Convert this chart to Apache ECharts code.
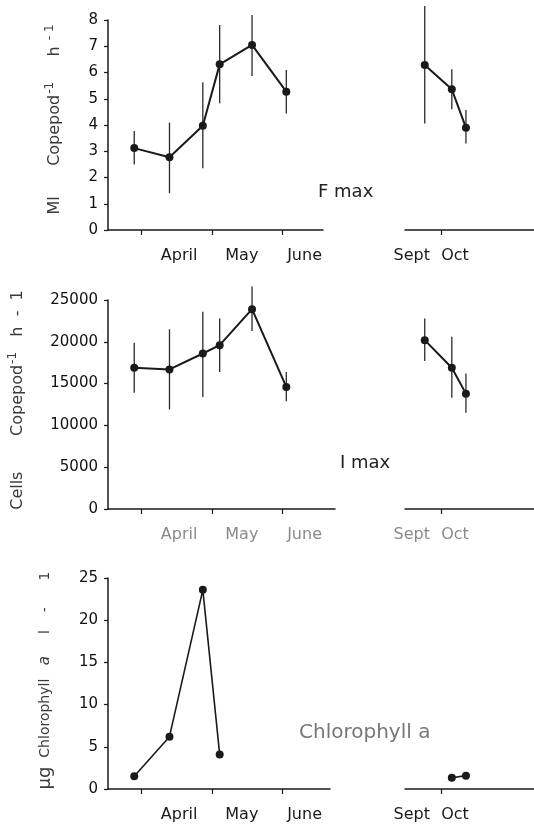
<!DOCTYPE html>
<html>
<head>
<meta charset="utf-8">
<script src="https://cdn.jsdelivr.net/npm/echarts@6/dist/echarts.min.js"></script>
<style>
html,body{margin:0;padding:0;background:#fff;}
#c{width:534px;height:830px;}
</style>
</head>
<body>
<div id="c"></div>
<script>
// ---- DATA (x in months: 4 = 1 April, 10 = 1 October) ----
var springX = [3.894, 4.394, 4.867, 5.106, 5.565, 6.051];
var autumnX = [9.684, 10.19, 10.454];

var fmaxSpring = [3.12, 2.77, 3.97, 6.31, 7.05, 5.27];
var fmaxSpringLow = [2.50, 1.40, 2.35, 4.83, 5.87, 4.44];
var fmaxSpringHigh = [3.77, 4.09, 5.63, 7.81, 8.19, 6.10];
var fmaxAutumn = [6.29, 5.36, 3.90];
var fmaxAutumnLow = [4.06, 4.60, 3.30];
var fmaxAutumnHigh = [8.53, 6.12, 4.57];

var imaxSpring = [16900, 16700, 18600, 19600, 23900, 14600];
var imaxSpringLow = [13900, 11900, 13400, 16400, 21300, 12900];
var imaxSpringHigh = [19900, 21500, 23600, 22800, 26600, 16400];
var imaxAutumn = [20200, 16900, 13800];
var imaxAutumnLow = [17700, 13300, 11500];
var imaxAutumnHigh = [22800, 20600, 16200];

var chlSpringX = [3.894, 4.394, 4.867, 5.106];
var chlSpring = [1.5, 6.2, 23.6, 4.1];
var chlAutumnX = [10.19, 10.454];
var chlAutumn = [1.34, 1.58];

var monthTicksSpring = [4, 5, 6];
var monthTicksAutumn = [10];
var monthLabelsSpring = ['April', 'May', 'June'];
var monthLabelPosSpring = [4.53, 5.42, 6.31];
var monthLabelsAutumn = ['Sept', 'Oct'];
var monthLabelPosAutumn = [9.44, 10.25];

var yMax = [8, 25000, 25];
var yStep = [1, 5000, 5];
var panelTexts = ['F max', 'I max', 'Chlorophyll a'];
var yNames = [
  'Ml      Copepod{s|-1}     h {s|- 1}',
  'Cells       Copepod{s|-1}   h  -  1',
  '{u|\u00b5g}  Chlorophyll   {i|a}     l    -      1'
];

// ---- LAYOUT ----
var pxPerMonth = 70.5;
var panelTop = [20, 300, 578];
var panelH = [210, 209, 211];
var leftX = 108, leftW = [215, 227, 222];
var rightX = 405, rightW = 170;
var tickSpringPx = 141.7, tickAutumnPx = 453.3;
var FONT = 'DejaVu Sans';
var INK = '#1a1a1a';

function pairs(xs, ys) { return xs.map(function (x, i) { return [x, ys[i]]; }); }
function triples(xs, lo, hi) { return xs.map(function (x, i) { return [x, lo[i], hi[i]]; }); }
function nearestLabel(v, pos, names) {
  var best = 0;
  for (var i = 1; i < pos.length; i++) if (Math.abs(pos[i] - v) < Math.abs(pos[best] - v)) best = i;
  return names[best];
}

var grids = [], xAxes = [], yAxes = [], series = [];
var nameGaps = [43, 80, 54];
var nameSizes = [16, 16, 14];
var namePadShift = [11, 9, 6];
var labelColors = [INK, '#8a8a8a', INK];

for (var p = 0; p < 3; p++) {
  var lMin = 4 - (tickSpringPx - leftX) / pxPerMonth;
  var rMin = 10 - (tickAutumnPx - rightX) / pxPerMonth;
  grids.push({ left: leftX, top: panelTop[p], width: leftW[p], height: panelH[p] });
  grids.push({ left: rightX, top: panelTop[p], width: rightW, height: panelH[p] });
  var axisLineStyle = { color: INK, width: 1.5 };
  xAxes.push({
    type: 'value', gridIndex: 2 * p, min: lMin, max: lMin + leftW[p] / pxPerMonth,
    splitLine: { show: false },
    axisLine: { show: true, onZero: false, lineStyle: axisLineStyle },
    axisTick: { show: true, customValues: monthTicksSpring, length: 5, inside: false, lineStyle: { color: INK, width: 1.2 } },
    axisLabel: {
      customValues: monthLabelPosSpring, margin: 18, color: labelColors[p], fontFamily: FONT, fontSize: 16,
      formatter: function (v) { return nearestLabel(v, monthLabelPosSpring, monthLabelsSpring); }
    }
  });
  xAxes.push({
    type: 'value', gridIndex: 2 * p + 1, min: rMin, max: rMin + rightW / pxPerMonth,
    splitLine: { show: false },
    axisLine: { show: true, onZero: false, lineStyle: axisLineStyle },
    axisTick: { show: true, customValues: monthTicksAutumn, length: 5, lineStyle: { color: INK, width: 1.2 } },
    axisLabel: {
      customValues: monthLabelPosAutumn, margin: 18, color: labelColors[p], fontFamily: FONT, fontSize: 16,
      formatter: function (v) { return nearestLabel(v, monthLabelPosAutumn, monthLabelsAutumn); }
    }
  });
  yAxes.push({
    type: 'value', gridIndex: 2 * p, min: 0, max: yMax[p], interval: yStep[p],
    splitLine: { show: false },
    axisLine: { show: true, lineStyle: axisLineStyle },
    axisTick: { show: true, length: 4, lineStyle: { color: INK, width: 1.2 } },
    axisLabel: { color: '#111', fontFamily: FONT, fontSize: 15, margin: 10,
      formatter: function (v) { return String(v); } },
    name: yNames[p], nameLocation: 'middle', nameRotate: 90, nameGap: nameGaps[p],
    nameTextStyle: {
      color: '#3a3a3a', fontFamily: FONT, fontSize: nameSizes[p], padding: [0, 0, 0, namePadShift[p]],
      rich: {
        s: { fontFamily: FONT, fontSize: 12, color: '#3a3a3a', padding: [0, 0, 9, 1] },
        i: { fontFamily: FONT, fontSize: nameSizes[p] + 1, fontStyle: 'italic', color: '#3a3a3a' },
        u: { fontFamily: FONT, fontSize: 18, color: '#3a3a3a' }
      }
    }
  });
  yAxes.push({
    type: 'value', gridIndex: 2 * p + 1, min: 0, max: yMax[p], interval: yStep[p], show: false
  });
}

function errorSeries(xi, yi, data) {
  return {
    type: 'custom', xAxisIndex: xi, yAxisIndex: yi, data: data, clip: false, z: 2,
    renderItem: function (params, api) {
      var a = api.coord([api.value(0), api.value(1)]);
      var b = api.coord([api.value(0), api.value(2)]);
      return { type: 'line', shape: { x1: a[0], y1: a[1], x2: b[0], y2: b[1] },
        style: { stroke: '#2a2a2a', lineWidth: 1.3 } };
    }
  };
}
function lineSeries(xi, yi, data, w) {
  return {
    type: 'line', xAxisIndex: xi, yAxisIndex: yi, data: data, z: 3,
    symbol: 'circle', symbolSize: 8, showSymbol: true, animation: false,
    lineStyle: { color: INK, width: w }, itemStyle: { color: INK },
    emphasis: { disabled: true }
  };
}

// panel 0: F max
series.push(errorSeries(0, 0, triples(springX, fmaxSpringLow, fmaxSpringHigh)));
series.push(lineSeries(0, 0, pairs(springX, fmaxSpring), 2));
series.push(errorSeries(1, 1, triples(autumnX, fmaxAutumnLow, fmaxAutumnHigh)));
series.push(lineSeries(1, 1, pairs(autumnX, fmaxAutumn), 2));
// panel 1: I max
series.push(errorSeries(2, 2, triples(springX, imaxSpringLow, imaxSpringHigh)));
series.push(lineSeries(2, 2, pairs(springX, imaxSpring), 2));
series.push(errorSeries(3, 3, triples(autumnX, imaxAutumnLow, imaxAutumnHigh)));
series.push(lineSeries(3, 3, pairs(autumnX, imaxAutumn), 2));
// panel 2: chlorophyll
series.push(lineSeries(4, 4, pairs(chlSpringX, chlSpring), 1.6));
series.push(lineSeries(5, 5, pairs(chlAutumnX, chlAutumn), 1.6));

var chart = echarts.init(document.getElementById('c'), null, { renderer: 'canvas' });
chart.setOption({
  animation: false,
  backgroundColor: '#fff',
  grid: grids, xAxis: xAxes, yAxis: yAxes, series: series,
  graphic: [
    { type: 'text', left: 318, top: 183, style: { text: panelTexts[0], fontFamily: FONT, fontSize: 18, fill: '#222' } },
    { type: 'text', left: 340, top: 454, style: { text: panelTexts[1], fontFamily: FONT, fontSize: 18, fill: '#222' } },
    { type: 'text', left: 299, top: 723, style: { text: panelTexts[2], fontFamily: FONT, fontSize: 20, fill: '#777' } }
  ]
});
</script>
</body>
</html>
